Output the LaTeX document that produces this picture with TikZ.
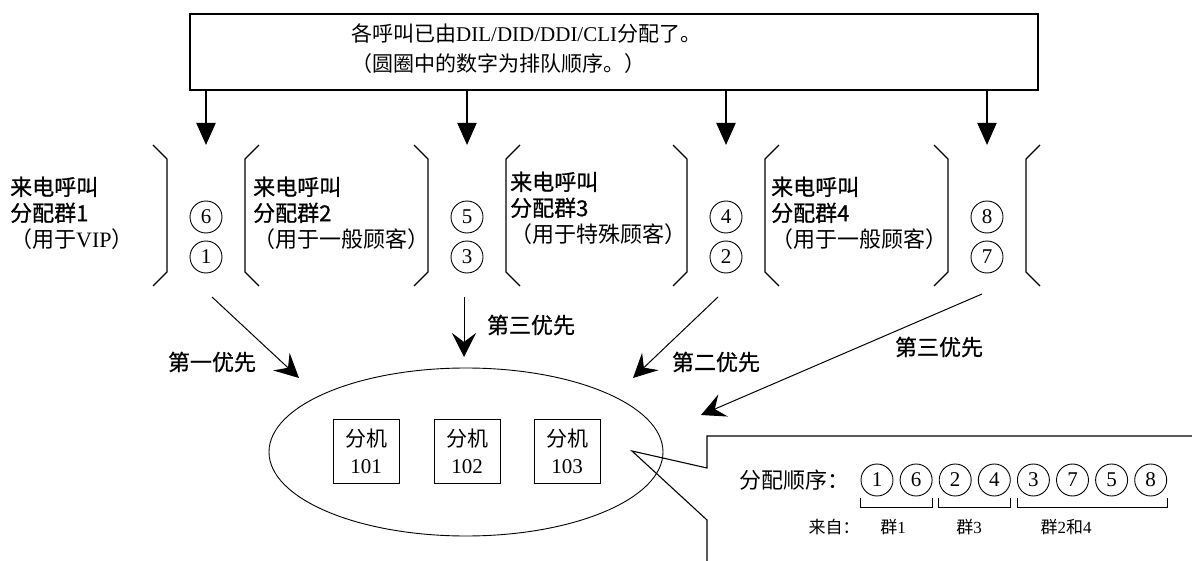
\documentclass[tikz,border=0pt]{standalone}
\usepackage{fontspec}
\setmainfont{Liberation Serif}
\newfontfamily\hei{Noto Sans CJK SC}[FakeBold = 0.8]
\newfontfamily\song{Noto Sans CJK SC}
\usetikzlibrary{arrows.meta, shapes.geometric}

\tikzset{
  num/.style = {circle, draw, line width = 0.9pt, minimum size = 32pt,
    inner sep = 0pt, font = \fontsize{21}{21}\selectfont},
  grp/.style = {anchor = west, align = left, inner sep = 0pt,
    font = \fontsize{22}{26}\selectfont},
  prio/.style = {inner sep = 0pt, font = \hei\fontsize{22}{22}\selectfont},
  ext/.style = {draw, line width = 0.9pt, minimum width = 66pt,
    minimum height = 64pt, inner sep = 0pt, align = center,
    font = \fontsize{21}{27}\selectfont},
  feed/.style = {-{Triangle[length = 22pt, width = 19pt]}, line width = 2pt},
  route/.style = {-{Stealth[length = 24pt, width = 24pt, inset = 9pt]},
    line width = 1pt},
  bracket/.style = {line width = 1.3pt}
}

\begin{document}
\begin{tikzpicture}[x = 1pt, y = -1pt]
  \useasboundingbox (0, 0) rectangle (1192, 561);
  % draw top box
  \node[draw, line width = 1.3pt, minimum width = 848pt, minimum height = 76pt,
  inner sep = 0pt] (top) at (614, 52) {};
  \node[anchor = west, align = left, inner sep = 0pt,
  font = \fontsize{21}{30}\selectfont] (note) at (351, 49)
  {{\song 各呼叫已由}DIL/DID/DDI/CLI{\song 分配了。}\\
    {\song （圆圈中的数字为排队顺序。）}};
  % draw queues and feeds
  \foreach \cx/\up/\dn [count = \i] in {206/6/1, 467/5/3, 726/4/2, 987/8/7} {
    \draw[bracket] (\cx - 53, 145) -- (\cx - 39, 159) -- (\cx - 39, 272)
    -- (\cx - 53, 286);
    \draw[bracket] (\cx + 53, 145) -- (\cx + 39, 159) -- (\cx + 39, 272)
    -- (\cx + 53, 286);
    \node[num] (u\i) at (\cx, 217) {\up};
    \node[num] (d\i) at (\cx, 257) {\dn};
    \coordinate (in\i) at (\cx, 145);
    \draw[feed] (top.south -| in\i) -- (in\i);
  }
  % draw group labels
  \node[grp] (g1) at (10, 213)
  {{\hei 来电呼叫}\\{\hei 分配群1}\\{\song （用于}VIP{\song ）}};
  \node[grp] (g2) at (253, 213)
  {{\hei 来电呼叫}\\{\hei 分配群2}\\{\song （用于一般顾客）}};
  \node[grp] (g3) at (510, 208)
  {{\hei 来电呼叫}\\{\hei 分配群3}\\{\song （用于特殊顾客）}};
  \node[grp] (g4) at (771, 213)
  {{\hei 来电呼叫}\\{\hei 分配群4}\\{\song （用于一般顾客）}};
  % draw pbx with extensions
  \node[draw, ellipse, line width = 0.9pt, minimum width = 394pt,
  minimum height = 168pt, inner sep = 0pt] (pbx) at (466, 452) {};
  \foreach \x [count = \i] in {366, 467, 567}
    \node[ext] (e\i) at (\x, 451) {{\song 分机}\\10\i};
  % draw routes
  \coordinate (o1) at (212, 297);
  \coordinate (t1) at (299, 378);
  \coordinate (o2) at (464, 297);
  \coordinate (t2) at (464, 357);
  \coordinate (o3) at (718, 297);
  \coordinate (t3) at (633, 378);
  \coordinate (o4) at (982, 294);
  \coordinate (t4) at (701, 415);
  \foreach \i in {1, ..., 4}
    \draw[route] (o\i) -- (t\i);
  \node[prio] (p1) at (212, 362) {第一优先};
  \node[prio] (p2) at (531, 325) {第三优先};
  \node[prio] (p3) at (716, 362) {第二优先};
  \node[prio] (p4) at (939, 347) {第三优先};
  % draw callout
  \draw[line width = 1.1pt] (1192, 436) -- (707, 436) -- (707, 468)
  -- (632, 451) -- (707, 520) -- (707, 561);
  % draw distribution order
  \node[anchor = west, inner sep = 0pt, font = \song\fontsize{22}{22}\selectfont]
  (ol) at (739, 480) {分配顺序：};
  \foreach \n [count = \i] in {1, 6, 2, 4, 3, 7, 5, 8}
    \node[num] (s\i) at (877 + 39.1 * \i - 39.1, 480) {\n};
  \foreach \a/\b in {1/2, 3/4, 5/8}
    \draw[line width = 0.9pt] ([yshift = -18pt] s\a.west)
    -- ([yshift = -27pt] s\a.west) -- ([yshift = -27pt] s\b.east)
    -- ([yshift = -18pt] s\b.east);
  \node[inner sep = 0pt, font = \song\fontsize{17}{17}\selectfont] (f0)
  at (834, 527) {来自：};
  \node[inner sep = 0pt, font = \fontsize{17}{17}\selectfont] (f1)
  at (893, 527) {{\song 群}1};
  \node[inner sep = 0pt, font = \fontsize{17}{17}\selectfont] (f2)
  at (969, 527) {{\song 群}3};
  \node[inner sep = 0pt, font = \fontsize{17}{17}\selectfont] (f3)
  at (1066, 527) {{\song 群}2{\song 和}4};
\end{tikzpicture}
\end{document}
